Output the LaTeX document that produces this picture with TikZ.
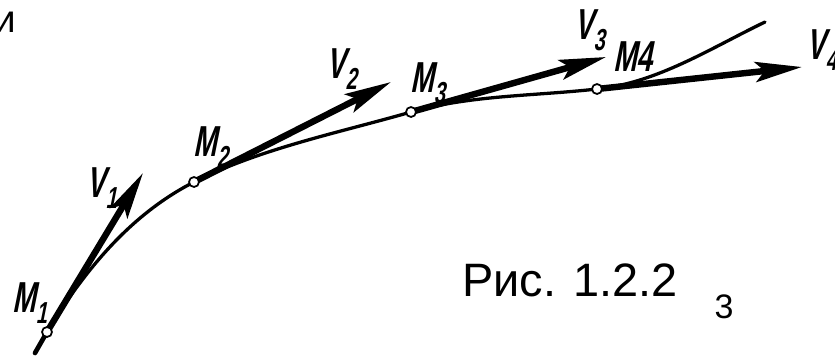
\documentclass[tikz,border=0pt]{standalone}
\usepackage{fontspec}
\setmainfont{Liberation Sans}
\newfontfamily\labfont{Liberation Sans}[FakeStretch=0.65,FakeSlant=0.2]
\usetikzlibrary{arrows.meta}
\tikzset{
  curve/.style={line width=2.8pt,line cap=round},
  vel/.style={line width=5.5pt,-{Stealth[length=14mm,width=6mm,inset=2.8mm]}},
  pt/.style={circle,draw,fill=white,line width=1.5pt,minimum size=3mm,inner sep=0pt},
  lab/.style={font=\labfont\bfseries\fontsize{37}{37}\selectfont,inner sep=0pt},
  captext/.style={font=\fontsize{40}{40}\selectfont,inner sep=0pt}
}

\begin{document}
\begin{tikzpicture}[x=0.03cm,y=-0.03cm]
  \useasboundingbox (0,0) rectangle (835,356);
  \coordinate (c0) at (35,353);
  \coordinate (M1) at (47,332);
  \coordinate (M2) at (194,182);
  \coordinate (M3) at (411,112);
  \coordinate (M4) at (597,89);
  \coordinate (c5) at (765,22);
  \coordinate (t1) at (143,173);
  \coordinate (t2) at (391,82);
  \coordinate (t3) at (606,57);
  \coordinate (t4) at (802,67);
  % trajectory
  \draw[curve,line width=4pt] (c0) -- (M1);
  \draw[curve] (M1) .. controls (96,251) and (145,207) .. (M2)
    .. controls (262,148) and (338,133) .. (M3)
    .. controls (471,95) and (535,96) .. (M4)
    .. controls (657,83) and (711,48) .. (c5);
  % velocities
  \draw[vel] (M1) -- (t1);
  \draw[vel] (M2) -- (t2);
  \draw[vel] (M3) -- (t3);
  \draw[vel] (M4) -- (t4);
  \foreach \p in {M1,M2,M3,M4}
    \node[pt] (p\p) at (\p) {};
  \node[lab] (lm1) at (30,303) {M\textsubscript{1}};
  \node[lab] (lv1) at (102,188) {V\textsubscript{1}};
  \node[lab] (lm2) at (211,147) {M\textsubscript{2}};
  \node[lab] (lv2) at (342,69) {V\textsubscript{2}};
  \node[lab] (lm3) at (428,83) {M\textsubscript{3}};
  \node[lab] (lv3) at (590,30) {V\textsubscript{3}};
  \node[lab] (lm4) at (633,57) {M4};
  \node[lab] (lv4) at (822,50) {V\textsubscript{4}};
  \node[captext] (fig) at (570,280) {Рис. 1.2.2};
  \node[inner sep=0pt,font=\fontsize{29}{29}\selectfont] (pg) at (724,307) {3};
  \node[inner sep=0pt,anchor=base east,font=\fontsize{33}{33}\selectfont] (prev) at (16,32) {и};
\end{tikzpicture}
\end{document}
